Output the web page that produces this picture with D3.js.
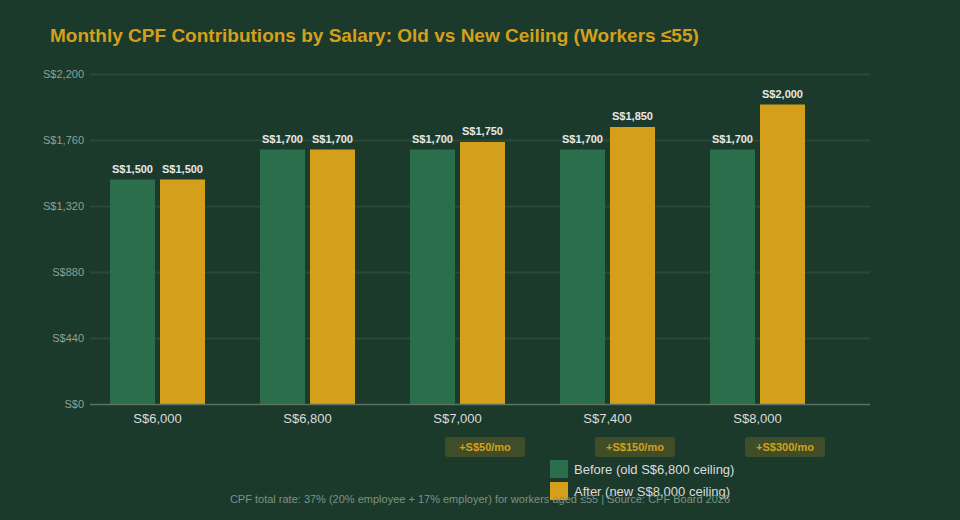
<!DOCTYPE html>
<html>
<head>
<meta charset="utf-8">
<script src="https://cdn.jsdelivr.net/npm/d3@7"></script>
<style>
  html, body { margin: 0; padding: 0; background: #1b3a2c; }
  svg { display: block; font-family: "Liberation Sans", Arial, sans-serif; }
</style>
</head>
<body>
<div id="chart"></div>
<script>
const salaries = ["S$6,000", "S$6,800", "S$7,000", "S$7,400", "S$8,000"];
const before = [1500, 1700, 1700, 1700, 1700];
const after = [1500, 1700, 1750, 1850, 2000];
const increases = [null, null, "+S$50/mo", "+S$150/mo", "+S$300/mo"];
const yTicks = [0, 440, 880, 1320, 1760, 2200];
const seriesKeys = ["before", "after"];
const seriesNames = ["Before (old S$6,800 ceiling)", "After (new S$8,000 ceiling)"];

const colors = { before: "#2b6e4b", after: "#d4a01c" };
const W = 960, H = 520;

const svg = d3.select("#chart")
    .append("svg")
    .attr("width", W)
    .attr("height", H);

svg.append("rect").attr("width", W).attr("height", H).attr("fill", "#1b3a2c");

const y = d3.scaleLinear().domain([0, 2200]).range([404.5, 74.5]);
const x0 = d3.scaleBand().domain(salaries).range([82.5, 832.5]).padding(0);
const x1 = d3.scaleBand().domain(seriesKeys).range([27.5, 122.5]).paddingInner(0.1).paddingOuter(0);

const data = salaries.map((s, i) => ({ salary: s, before: before[i], after: after[i], inc: increases[i] }));

// title
svg.append("text")
    .attr("x", 50)
    .attr("y", 42)
    .attr("fill", "#d4a01c")
    .attr("font-size", 19)
    .attr("font-weight", "bold")
    .text("Monthly CPF Contributions by Salary: Old vs New Ceiling (Workers ≤55)");

// grid
svg.append("g")
    .selectAll("line")
    .data(yTicks.filter(d => d > 0))
    .join("line")
    .attr("x1", 90).attr("x2", 870)
    .attr("y1", d => y(d)).attr("y2", d => y(d))
    .attr("stroke", "#294a38")
    .attr("stroke-width", 2);

// y axis labels
svg.append("g")
    .selectAll("text")
    .data(yTicks)
    .join("text")
    .attr("x", 84)
    .attr("y", d => y(d))
    .attr("dy", "0.35em")
    .attr("text-anchor", "end")
    .attr("fill", "#8fa095")
    .attr("font-size", 11)
    .text(d => "S$" + d3.format(",")(d));

// bars
const groups = svg.append("g")
    .selectAll("g")
    .data(data)
    .join("g")
    .attr("transform", d => `translate(${x0(d.salary)},0)`);

groups.selectAll("rect")
    .data(d => seriesKeys.map(k => ({ key: k, value: d[k] })))
    .join("rect")
    .attr("x", d => x1(d.key))
    .attr("width", x1.bandwidth())
    .attr("y", d => y(d.value))
    .attr("height", d => y(0) - y(d.value))
    .attr("fill", d => colors[d.key]);

groups.selectAll("text.val")
    .data(d => seriesKeys.map(k => ({ key: k, value: d[k] })))
    .join("text")
    .attr("class", "val")
    .attr("x", d => x1(d.key) + x1.bandwidth() / 2)
    .attr("y", d => y(d.value) - 7)
    .attr("text-anchor", "middle")
    .attr("fill", "#e8e8e8")
    .attr("font-size", 11)
    .attr("font-weight", "bold")
    .text(d => "S$" + d3.format(",")(d.value));

// baseline
svg.append("line")
    .attr("x1", 90).attr("x2", 870)
    .attr("y1", y(0)).attr("y2", y(0))
    .attr("stroke", "#5d7264")
    .attr("stroke-width", 1.5);

// x labels
svg.append("g")
    .selectAll("text")
    .data(salaries)
    .join("text")
    .attr("x", d => x0(d) + x0.bandwidth() / 2)
    .attr("y", 418)
    .attr("dy", "0.35em")
    .attr("text-anchor", "middle")
    .attr("fill", "#dcdcdc")
    .attr("font-size", 13)
    .text(d => d);

// increase badges
const badges = svg.append("g")
    .selectAll("g")
    .data(data.filter(d => d.inc))
    .join("g")
    .attr("transform", d => `translate(${x0(d.salary) + x1("after") + x1.bandwidth() / 2 + 2.5},447)`);

badges.append("rect")
    .attr("x", -40).attr("y", -10)
    .attr("width", 80).attr("height", 20)
    .attr("rx", 3)
    .attr("fill", "#d4a01c")
    .attr("fill-opacity", 0.2);

badges.append("text")
    .attr("text-anchor", "middle")
    .attr("dy", "0.35em")
    .attr("fill", "#d4a01c")
    .attr("font-size", 11)
    .attr("font-weight", "bold")
    .text(d => d.inc);

// legend
const legend = svg.append("g")
    .selectAll("g")
    .data(seriesKeys)
    .join("g")
    .attr("transform", (d, i) => `translate(550,${460 + i * 22})`);

legend.append("rect")
    .attr("width", 18).attr("height", 18)
    .attr("fill", d => colors[d]);

legend.append("text")
    .attr("x", 24)
    .attr("y", 9)
    .attr("dy", "0.35em")
    .attr("fill", "#dcdcdc")
    .attr("font-size", 13)
    .text((d, i) => seriesNames[i]);

// footer
svg.append("text")
    .attr("x", 480)
    .attr("y", 503)
    .attr("text-anchor", "middle")
    .attr("fill", "#7d9284")
    .attr("font-size", 11)
    .text("CPF total rate: 37% (20% employee + 17% employer) for workers aged ≤55 | Source: CPF Board 2026");
</script>
</body>
</html>
